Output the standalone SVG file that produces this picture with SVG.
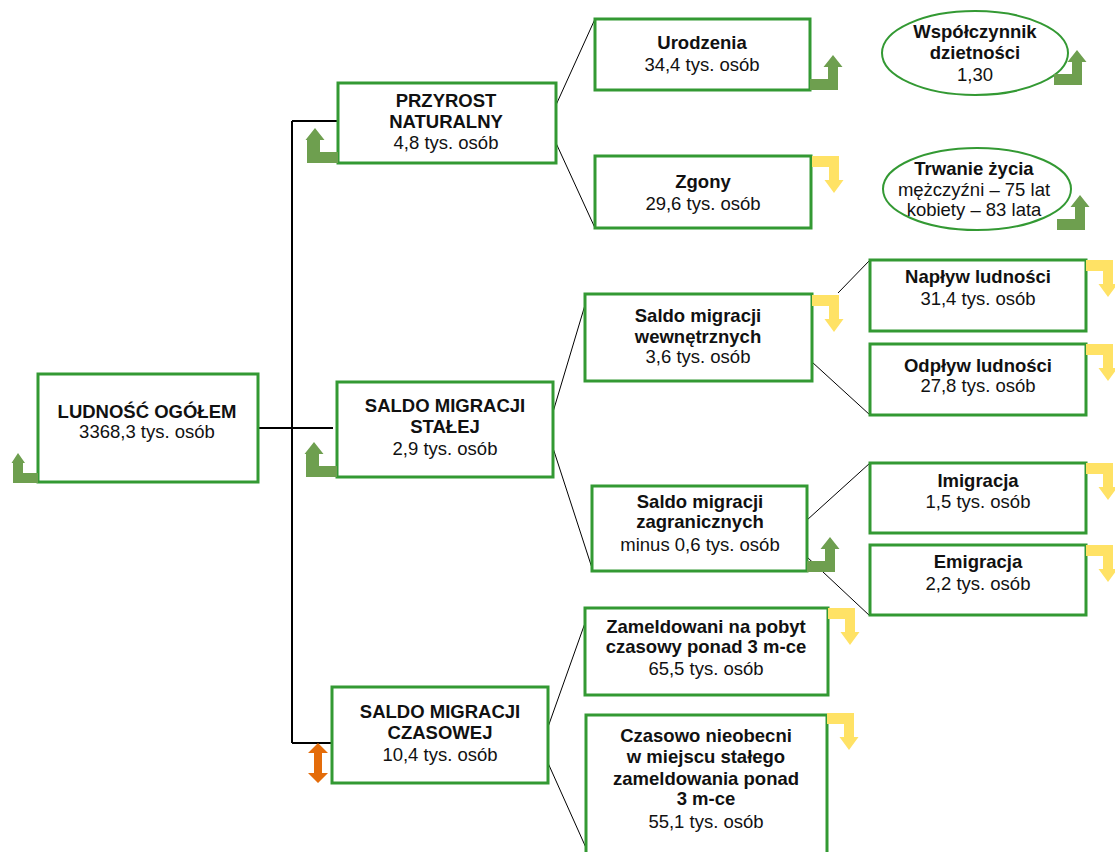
<svg xmlns="http://www.w3.org/2000/svg" width="1115" height="852" viewBox="0 0 1115 852">
<style>
text{font-family:"Liberation Sans",Arial,sans-serif;font-size:18.5px;fill:#111;text-anchor:middle}
.b{font-weight:bold}
.box{fill:#fff;stroke:#339933;stroke-width:3}
.ell{fill:#fff;stroke:#339933;stroke-width:2}
.trunk{stroke:#000;stroke-width:2;fill:none}
.thin{stroke:#000;stroke-width:1;fill:none}
.ga{fill:#6E9F4F}
.ya{fill:#FFE265}
.oa{fill:#E46C0A}
</style>
<defs>
<path id="gUpR" d="M0,0 H28 V-23 H32.5 L23,-35 L13.5,-23 H18 V-11 H0 Z"/>
<path id="gUpL" d="M0,0 H-31 V-23 H-32.5 L-23,-35 L-13.5,-23 H-18 V-11 H0 Z"/>
<path id="yDn" d="M0,0 H27 V24 H31.5 L22,37 L12.5,24 H17 V11 H0 Z"/>
</defs>
<rect width="1115" height="852" fill="#fff"/>
<g id="connectors">
<path class="trunk" d="M292,121 V743 M258,428 H333 M292,121 H338 M292,743 H332"/>
<path class="thin" d="M556,105 L595,19 M556,143 L595,228"/>
<path class="thin" d="M553,412 L585,305 M553,448 L592,568"/>
<path class="thin" d="M838,293 L870,260 M812,362 L870,415"/>
<path class="thin" d="M807,520 L870,463 M807,557 L870,616"/>
<path class="thin" d="M548,727 L585,623 M548,763 L587,850"/>
</g>
<g id="ludnosc">
<rect class="box" x="38" y="374" width="220" height="108"/>
<text class="b" x="147" y="418">LUDNOŚĆ OGÓŁEM</text>
<text x="147" y="438">3368,3 tys. osób</text>
<path class="ga" d="M38,483 H13 V463 H11.5 L18,453 L25,463 H23 V473 H38 Z"/>
</g>
<g id="przyrost">
<rect class="box" x="338" y="83" width="218" height="80"/>
<text class="b" x="446" y="107">PRZYROST</text>
<text class="b" x="446" y="128">NATURALNY</text>
<text x="446" y="149">4,8 tys. osób</text>
<use href="#gUpL" class="ga" transform="translate(338,163)"/>
</g>
<g id="urodzenia">
<rect class="box" x="595" y="19" width="215" height="71"/>
<text class="b" x="702" y="49">Urodzenia</text>
<text x="702" y="71">34,4 tys. osób</text>
<use href="#gUpR" class="ga" transform="translate(810,90)"/>
</g>
<g id="zgony">
<rect class="box" x="595" y="156" width="216" height="72"/>
<text class="b" x="703" y="188">Zgony</text>
<text x="703" y="210">29,6 tys. osób</text>
<use href="#yDn" class="ya" transform="translate(812,156)"/>
</g>
<g id="dzietnosc">
<ellipse class="ell" cx="975" cy="53" rx="93" ry="42"/>
<text class="b" x="975" y="38">Współczynnik</text>
<text class="b" x="975" y="59">dzietności</text>
<text x="975" y="81">1,30</text>
<use href="#gUpR" class="ga" transform="translate(1054,85)"/>
</g>
<g id="trwanie">
<ellipse class="ell" cx="977" cy="189" rx="94" ry="41"/>
<text class="b" x="974" y="175">Trwanie życia</text>
<text x="974" y="196">mężczyźni – 75 lat</text>
<text x="974" y="216">kobiety – 83 lata</text>
<use href="#gUpR" class="ga" transform="translate(1057,230)"/>
</g>
<g id="stalej">
<rect class="box" x="337" y="382" width="216" height="95"/>
<text class="b" x="445" y="412">SALDO MIGRACJI</text>
<text class="b" x="445" y="433">STAŁEJ</text>
<text x="445" y="455">2,9 tys. osób</text>
<use href="#gUpL" class="ga" transform="translate(337,477)"/>
</g>
<g id="wewnetrzne">
<rect class="box" x="585" y="294" width="227" height="87"/>
<text class="b" x="698" y="322">Saldo migracji</text>
<text class="b" x="698" y="343">wewnętrznych</text>
<text x="698" y="363">3,6 tys. osób</text>
<use href="#yDn" class="ya" transform="translate(812,295)"/>
</g>
<g id="naplyw">
<rect class="box" x="870" y="260" width="216" height="71"/>
<text class="b" x="978" y="283">Napływ ludności</text>
<text x="978" y="305">31,4 tys. osób</text>
<use href="#yDn" class="ya" transform="translate(1086,260)"/>
</g>
<g id="odplyw">
<rect class="box" x="870" y="344" width="216" height="71"/>
<text class="b" x="978" y="372">Odpływ ludności</text>
<text x="978" y="392">27,8 tys. osób</text>
<use href="#yDn" class="ya" transform="translate(1086,344)"/>
</g>
<g id="zagraniczne">
<rect class="box" x="592" y="486" width="215" height="85"/>
<text class="b" x="700" y="508">Saldo migracji</text>
<text class="b" x="700" y="528">zagranicznych</text>
<text x="700" y="551">minus 0,6 tys. osób</text>
<use href="#gUpR" class="ga" transform="translate(807,572)"/>
</g>
<g id="imigracja">
<rect class="box" x="870" y="463" width="216" height="70"/>
<text class="b" x="978" y="487">Imigracja</text>
<text x="978" y="508">1,5 tys. osób</text>
<use href="#yDn" class="ya" transform="translate(1086,463)"/>
</g>
<g id="emigracja">
<rect class="box" x="870" y="545" width="216" height="70"/>
<text class="b" x="978" y="568">Emigracja</text>
<text x="978" y="590">2,2 tys. osób</text>
<use href="#yDn" class="ya" transform="translate(1086,545)"/>
</g>
<g id="czasowej">
<rect class="box" x="332" y="687" width="216" height="96"/>
<text class="b" x="440" y="718">SALDO MIGRACJI</text>
<text class="b" x="440" y="739">CZASOWEJ</text>
<text x="440" y="761">10,4 tys. osób</text>
<path class="oa" d="M318,743 L328,753 H322 V773 H328 L318,783 L308,773 H314 V753 H308 Z"/>
</g>
<g id="zameldowani">
<rect class="box" x="585" y="608" width="243" height="87"/>
<text class="b" x="706" y="633">Zameldowani na pobyt</text>
<text class="b" x="706" y="653">czasowy ponad 3 m-ce</text>
<text x="706" y="675">65,5 tys. osób</text>
<use href="#yDn" class="ya" transform="translate(828,608)"/>
</g>
<g id="nieobecni">
<rect class="box" x="586" y="715" width="241" height="145"/>
<text class="b" x="706" y="742">Czasowo nieobecni</text>
<text class="b" x="706" y="763">w miejscu stałego</text>
<text class="b" x="706" y="785">zameldowania ponad</text>
<text class="b" x="706" y="805">3 m-ce</text>
<text x="706" y="828">55,1 tys. osób</text>
<use href="#yDn" class="ya" transform="translate(827,713)"/>
</g>
</svg>
